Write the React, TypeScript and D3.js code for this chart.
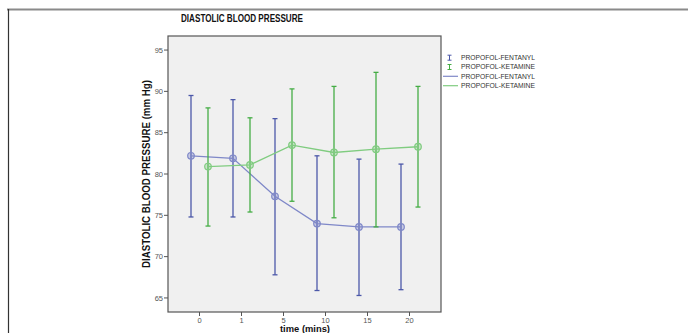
import React from 'react';
import * as d3 from 'd3';

const times = ['0', '1', '5', '10', '15', '20'];
const yTicks = [65, 70, 75, 80, 85, 90, 95];

const fentMean = [82.2, 81.9, 77.3, 74.0, 73.6, 73.6];
const fentUpper = [89.5, 89.0, 86.7, 82.2, 81.8, 81.2];
const fentLower = [74.8, 74.8, 67.8, 65.9, 65.3, 66.0];

const ketMean = [80.9, 81.1, 83.5, 82.6, 83.0, 83.3];
const ketUpper = [88.0, 86.8, 90.3, 90.6, 92.3, 90.6];
const ketLower = [73.7, 75.4, 76.7, 74.7, 73.6, 76.0];

const seriesNames = ['PROPOFOL-FENTANYL', 'PROPOFOL-KETAMINE'];

const W = 688;
const H = 333;
const left = 168, right = 441, top = 36, bottom = 312;

const App = () => {
  const x = d3.scalePoint<string>().domain(times).range([left, right]).padding(0.75);
  const y = d3.scaleLinear().domain([63.3, 96.7]).range([bottom, top]);

  const series = [
    { name: seriesNames[0], mean: fentMean, lo: fentLower, hi: fentUpper, dx: -8.5, bar: '#4c58a9', line: '#7f88c8', fill: 'rgba(127,136,200,0.35)' },
    { name: seriesNames[1], mean: ketMean, lo: ketLower, hi: ketUpper, dx: 8.5, bar: '#45ad45', line: '#80cc80', fill: 'rgba(128,204,128,0.35)' },
  ];

  const line = d3.line<number>()
    .x((_, i) => (x(times[i]) as number))
    .y((d) => y(d));

  return (
    <svg width={W} height={H} style={{ position: 'absolute', left: 0, top: 0, background: '#fff' }}
      fontFamily="'Liberation Sans', Arial, sans-serif">
      {/* outer frame */}
      <line x1={7} x2={W} y1={9.5} y2={9.5} stroke="#8a8a8a" strokeWidth={2} />
      <line x1={8.5} x2={8.5} y1={9} y2={H} stroke="#333" strokeWidth={1.2} />

      <text x={242} y={22} textAnchor="middle" fontWeight="bold" fontSize={10.5}
        textLength={122} lengthAdjust="spacingAndGlyphs" fill="#111">DIASTOLIC BLOOD PRESSURE</text>

      {/* plot area */}
      <rect x={left} y={top} width={right - left} height={bottom - top} fill="#f0f0f0" stroke="#555" strokeWidth={1.2} />

      {/* y axis */}
      {yTicks.map((t) => (
        <g key={t}>
          <line x1={left - 4} x2={left} y1={y(t)} y2={y(t)} stroke="#555" />
          <text x={left - 5} y={y(t) + 2.7} textAnchor="end" fontSize={7.5} fill="#555">{t}</text>
        </g>
      ))}
      <text transform={`translate(150,174) rotate(-90)`} textAnchor="middle" fontWeight="bold" fontSize={10.5}
        textLength={188} lengthAdjust="spacingAndGlyphs" fill="#111">DIASTOLIC BLOOD PRESSURE (mm Hg)</text>

      {/* x axis */}
      {times.map((t) => (
        <g key={t}>
          <line x1={x(t)} x2={x(t)} y1={bottom} y2={bottom + 4} stroke="#555" />
          <text x={x(t)} y={bottom + 11} textAnchor="middle" fontSize={7.5} fill="#555">{t}</text>
        </g>
      ))}
      <text x={305} y={332} textAnchor="middle" fontWeight="bold" fontSize={8.5}
        textLength={50} lengthAdjust="spacingAndGlyphs" fill="#111">time (mins)</text>

      {/* series */}
      {series.map((s) => (
        <g key={s.name} transform={`translate(${s.dx},0)`}>
          {times.map((t, i) => {
            const cx = x(t) as number;
            return (
              <g key={t} stroke={s.bar} strokeWidth={1.3}>
                <line x1={cx} x2={cx} y1={y(s.hi[i])} y2={y(s.lo[i])} />
                <line x1={cx - 2.5} x2={cx + 2.5} y1={y(s.hi[i])} y2={y(s.hi[i])} />
                <line x1={cx - 2.5} x2={cx + 2.5} y1={y(s.lo[i])} y2={y(s.lo[i])} />
              </g>
            );
          })}
          <path d={line(s.mean) || ''} fill="none" stroke={s.line} strokeWidth={1.3} />
          {s.mean.map((m, i) => (
            <circle key={i} cx={x(times[i])} cy={y(m)} r={3.3} fill={s.fill} stroke={s.line} strokeWidth={1.2} />
          ))}
        </g>
      ))}

      {/* legend */}
      {series.map((s, i) => {
        const ly = 57.7 + i * 9.3;
        return (
          <g key={'eb' + s.name}>
            <g stroke={s.bar} strokeWidth={1}>
              <line x1={449.5} x2={449.5} y1={ly - 2.5} y2={ly + 2.5} />
              <line x1={447.5} x2={451.5} y1={ly - 2.5} y2={ly - 2.5} />
              <line x1={447.5} x2={451.5} y1={ly + 2.5} y2={ly + 2.5} />
            </g>
            <text x={461} y={ly + 2.3} fontSize={6.5} fill="#333" textLength={74} lengthAdjust="spacingAndGlyphs">{s.name}</text>
          </g>
        );
      })}
      {series.map((s, i) => {
        const ly = 76.3 + i * 9.4;
        return (
          <g key={'ln' + s.name}>
            <line x1={443} x2={458} y1={ly} y2={ly} stroke={s.line} strokeWidth={1.2} />
            <text x={461} y={ly + 2.3} fontSize={6.5} fill="#333" textLength={74} lengthAdjust="spacingAndGlyphs">{s.name}</text>
          </g>
        );
      })}
    </svg>
  );
};

export default App;
